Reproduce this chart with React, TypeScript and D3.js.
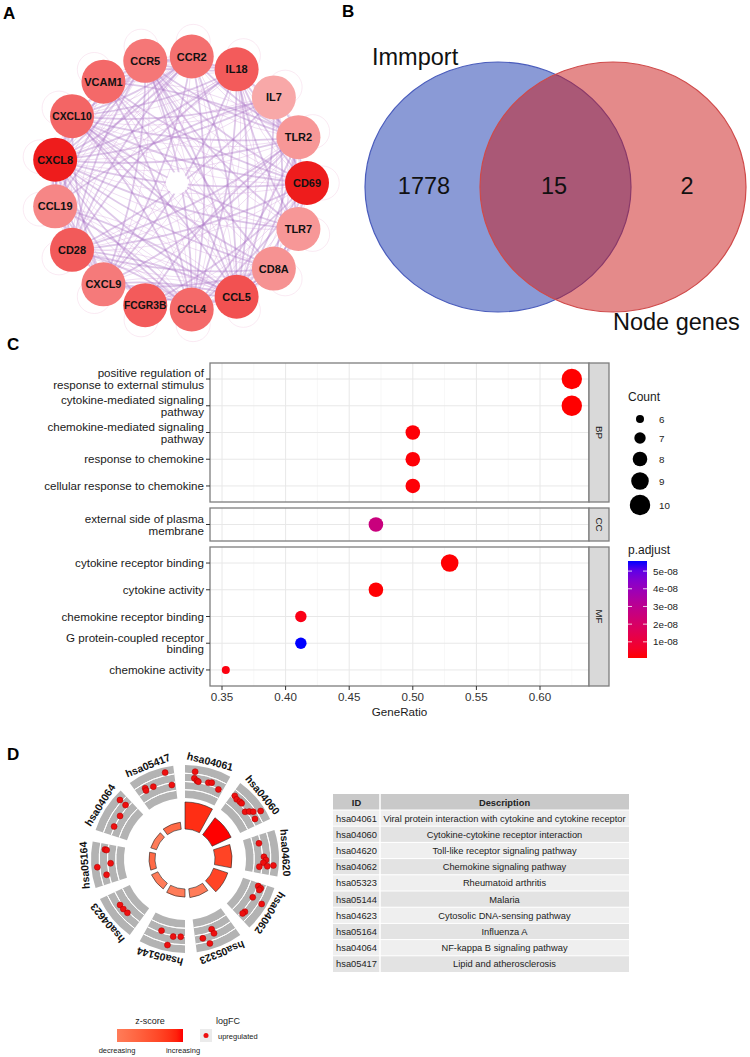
import React from 'react';
import * as d3 from 'd3';

const FONT = "'Liberation Sans', Arial, Helvetica, sans-serif";

// ---------------- Panel A: PPI network ----------------
const networkNodes = ['CCR2', 'IL18', 'IL7', 'TLR2', 'CD69', 'TLR7', 'CD8A', 'CCL5', 'CCL4', 'FCGR3B', 'CXCL9', 'CD28', 'CCL19', 'CXCL8', 'CXCL10', 'VCAM1', 'CCR5'];
const nodeScore = [0.4, 0.55, 0.0, 0.12, 1.0, 0.12, 0.16, 0.62, 0.45, 0.55, 0.33, 0.56, 0.24, 1.0, 0.48, 0.45, 0.35];
const edgeAdjacency: [string, string[]][] = [
  ['CXCL8', ['CCR2', 'IL18', 'IL7', 'TLR2', 'CD69', 'TLR7', 'CD8A', 'CCL5', 'CCL4', 'FCGR3B', 'CXCL9', 'CD28', 'CCL19', 'CXCL10', 'VCAM1', 'CCR5']],
  ['CCL5', ['CCR2', 'IL18', 'IL7', 'TLR2', 'CD69', 'TLR7', 'CD8A', 'CCL4', 'CXCL9', 'CD28', 'CCL19', 'CXCL10', 'VCAM1', 'CCR5', 'FCGR3B']],
  ['CCL4', ['CCR2', 'IL18', 'TLR2', 'CD69', 'CD8A', 'CXCL9', 'CD28', 'CCL19', 'CXCL10', 'CCR5', 'VCAM1']],
  ['CXCL10', ['CCR2', 'IL18', 'IL7', 'TLR2', 'CD69', 'TLR7', 'CD8A', 'CXCL9', 'CD28', 'CCL19', 'VCAM1', 'CCR5']],
  ['CXCL9', ['CCR2', 'IL18', 'CD8A', 'CD28', 'CCL19', 'CCR5', 'TLR2']],
  ['CCR5', ['CCR2', 'IL18', 'CD8A', 'CD28', 'CCL19', 'TLR2', 'TLR7', 'CD69']],
  ['CCR2', ['IL18', 'CCL19', 'TLR2', 'CD28', 'VCAM1']],
  ['IL18', ['IL7', 'TLR2', 'TLR7', 'CD69', 'VCAM1', 'CD28']],
  ['CD28', ['CD8A', 'IL7', 'CD69', 'CCL19', 'TLR2']],
  ['CD8A', ['CD69', 'IL7', 'TLR7']],
  ['TLR2', ['TLR7', 'VCAM1', 'CD69', 'IL7', 'FCGR3B']],
  ['VCAM1', ['CD69']],
  ['IL7', ['CCL19', 'CD69']],
  ['FCGR3B', ['CD69']],
];

// ---------------- Panel B: Venn ----------------
const vennSetNames = ['Immport', 'Node genes'];
const vennCounts = [1778, 15, 2]; // only Immport, both, only Node genes

// ---------------- Panel C: GO dot plot ----------------
const goTerms = [
  'positive regulation of response to external stimulus',
  'cytokine-mediated signaling pathway',
  'chemokine-mediated signaling pathway',
  'response to chemokine',
  'cellular response to chemokine',
  'external side of plasma membrane',
  'cytokine receptor binding',
  'cytokine activity',
  'chemokine receptor binding',
  'G protein-coupled receptor binding',
  'chemokine activity',
];
const goOntology = ['BP', 'BP', 'BP', 'BP', 'BP', 'CC', 'MF', 'MF', 'MF', 'MF', 'MF'];
const goGeneRatio = [0.625, 0.625, 0.5, 0.5, 0.5, 0.471, 0.529, 0.471, 0.412, 0.412, 0.353];
const goCount = [10, 10, 8, 8, 8, 8, 9, 8, 7, 7, 6];
const goPadjust = [8.6e-10, 8.6e-10, 1.5e-9, 1.5e-9, 1.5e-9, 2.55e-8, 1.1e-9, 1.1e-9, 3.0e-9, 5.57e-8, 2.2e-9];
const goFacets = ['BP', 'CC', 'MF'];
const xTickValues = [0.35, 0.4, 0.45, 0.5, 0.55, 0.6];
const countLegendValues = [6, 7, 8, 9, 10];
const padjTickValues = [1e-8, 2e-8, 3e-8, 4e-8, 5e-8];

// ---------------- Panel D: KEGG GOCircle + table ----------------
const keggIDs = ['hsa04061', 'hsa04060', 'hsa04620', 'hsa04062', 'hsa05323', 'hsa05144', 'hsa04623', 'hsa05164', 'hsa04064', 'hsa05417'];
const keggDescriptions = [
  'Viral protein interaction with cytokine and cytokine receptor',
  'Cytokine-cytokine receptor interaction',
  'Toll-like receptor signaling pathway',
  'Chemokine signaling pathway',
  'Rheumatoid arthritis',
  'Malaria',
  'Cytosolic DNA-sensing pathway',
  'Influenza A',
  'NF-kappa B signaling pathway',
  'Lipid and atherosclerosis',
];
const keggNegLog10Padj = [13.0, 10.1, 8.2, 7.2, 4.3, 3.9, 3.4, 2.9, 2.9, 3.4];
const keggZscore = [2.83, 3.0, 2.65, 2.65, 2.0, 2.0, 2.0, 2.24, 2.0, 2.24];
const keggGeneSlot = [
  [0.23, 0.23, 0.3, 0.34, 0.59, 0.67, 0.89],
  [0.08, 0.17, 0.27, 0.33, 0.55, 0.61, 0.67, 0.75, 0.84],
  [0.21, 0.57, 0.65, 0.72, 0.8, 0.83, 0.77],
  [0.08, 0.11, 0.16, 0.4, 0.43, 0.81, 0.88],
  [0.53, 0.51, 0.81, 0.68],
  [0.63, 0.3, 0.11, 0.4],
  [0.65, 0.52, 0.38],
  [0.86, 0.85, 0.44, 0.51, 0.23],
  [0.84, 0.84, 0.54, 0.23],
  [0.8, 0.9, 0.43, 0.23, 0.22],
];
const keggGeneLogFC = [
  [3.26, 2.45, 2.21, 2.12, 2.28, 2.41, 1.96],
  [2.35, 2.17, 2.23, 2.23, 1.87, 2.29, 2.68, 3.47, 2.38],
  [1.77, 2.18, 2.42, 2.11, 2.62, 1.66, 3.35],
  [2.07, 2.45, 2.36, 2.04, 3.38, 2.28, 2.21],
  [1.72, 2.28, 2.46, 3.27],
  [1.75, 2.12, 2.04, 3.25],
  [2.25, 2.23, 2.16],
  [2.38, 2.17, 3.28, 1.64, 2.3],
  [3.25, 2.33, 2.05, 2.06],
  [3.35, 1.72, 2.18, 2.45, 2.15],
];
const logFCGrid = [1, 2, 3];

function wrapLabel(s: string, width = 30): string[] {
  const words = s.split(' ');
  const lines: string[] = [];
  let cur = '';
  for (const w of words) {
    if (cur === '') cur = w;
    else if ((cur + ' ' + w).length <= width) cur += ' ' + w;
    else { lines.push(cur); cur = w; }
  }
  if (cur) lines.push(cur);
  return lines;
}

const PanelA = () => {
  const cx = 180, cy = 183, R = 127, nodeR = 22;
  const n = networkNodes.length;
  const ang = d3.scaleLinear().domain([0, n]).range([5.3, 365.3]);
  const color = d3.scaleLinear<string>().domain([0, 1]).range(['#f8a8a8', '#ee1c1c']);
  const pos = new Map<string, { x: number; y: number }>();
  networkNodes.forEach((name, i) => {
    const a = (ang(i) * Math.PI) / 180;
    pos.set(name, { x: cx + R * Math.sin(a), y: cy - R * Math.cos(a) });
  });
  const edges: [string, string][] = [];
  edgeAdjacency.forEach(([s, ts]) => ts.forEach((t) => edges.push([s, t])));
  const curve = (s: string, t: string, k: number) => {
    const p1 = pos.get(s)!, p2 = pos.get(t)!;
    const mx = (p1.x + p2.x) / 2, my = (p1.y + p2.y) / 2;
    const dx = p2.x - p1.x, dy = p2.y - p1.y;
    const path = d3.path();
    path.moveTo(p1.x, p1.y);
    path.quadraticCurveTo(mx - dy * k, my + dx * k, p2.x, p2.y);
    return path.toString();
  };
  return (
    <g>
      <text x={3} y={19} fontSize={17} fontWeight="bold" fill="#000">A</text>
      <g fill="none">
        {networkNodes.map((name) => {
          const p = pos.get(name)!;
          const ox = cx + (p.x - cx) * 1.12, oy = cy + (p.y - cy) * 1.12;
          return <circle key={'loop' + name} cx={ox} cy={oy} r={17} stroke="#f2c4dc" strokeOpacity={0.45} strokeWidth={0.8} />;
        })}
        {edges.map(([s, t], i) => (
          <path key={'e1' + i} d={curve(s, t, 0.1)} stroke="#a870c4" strokeOpacity={0.38} strokeWidth={1.8} />
        ))}
        {edges.map(([s, t], i) => (
          <path key={'e2' + i} d={curve(s, t, 0.17)} stroke="#d2a0dc" strokeOpacity={0.35} strokeWidth={1} />
        ))}
      </g>
      <circle cx={cx - 3} cy={cy} r={11} fill="#fff" />
      {networkNodes.map((name, i) => {
        const p = pos.get(name)!;
        return (
          <g key={name}>
            <circle cx={p.x} cy={p.y} r={nodeR} fill={color(nodeScore[i])} />
            <text x={p.x} y={p.y} dy="0.36em" textAnchor="middle" fontSize={name.length > 5 ? 10.3 : 11} fontWeight="bold" fill="#111">{name}</text>
          </g>
        );
      })}
    </g>
  );
};

const PanelB = () => {
  const cy = 187, rx = 133, ry = 125;
  const xA = 498, xB = 613;
  return (
    <g>
      <text x={342} y={17} fontSize={17} fontWeight="bold" fill="#000">B</text>
      <ellipse cx={xA} cy={cy} rx={rx} ry={ry} fill="#8a9ad6" stroke="#4a5cbc" strokeWidth={1.2} />
      <ellipse cx={xB} cy={cy} rx={rx} ry={ry} fill="rgb(201,21,21)" fillOpacity={0.5} stroke="#cf4a4a" strokeWidth={1.2} />
      <text x={372} y={65} fontSize={23.5} fill="#111">{vennSetNames[0]}</text>
      <text x={613} y={330} fontSize={23.5} fill="#111">{vennSetNames[1]}</text>
      <text x={424} y={194} fontSize={23.5} textAnchor="middle" fill="#111">{vennCounts[0]}</text>
      <text x={554} y={194} fontSize={23.5} textAnchor="middle" fill="#111">{vennCounts[1]}</text>
      <text x={687} y={194} fontSize={23.5} textAnchor="middle" fill="#111">{vennCounts[2]}</text>
    </g>
  );
};

const PanelC = () => {
  const left = 210, right = 589;
  const stripW = 20;
  const facetRange: Record<string, [number, number]> = { BP: [363, 502], CC: [508, 541], MF: [547, 686] };
  const x = d3.scaleLinear().domain([0.35, 0.6]).range([222, 540]);
  const rScale = d3.scaleSqrt().domain([6, 10]).range([4, 10.2]);
  const pExtent = d3.extent(goPadjust) as [number, number];
  const pColor = d3.scaleLinear<string>().domain(pExtent).range(['red', 'blue']).interpolate(d3.interpolateLab);
  const minorTicks = d3.range(0.375, 0.64, 0.05);
  const rows = goTerms.map((term, i) => {
    const facet = goOntology[i];
    const idx = goOntology.slice(0, i).filter((f) => f === facet).length;
    const nIn = goOntology.filter((f) => f === facet).length;
    const [t, b] = facetRange[facet];
    const y = d3.scaleLinear().domain([-0.6, nIn - 1 + 0.6]).range([t, b]);
    return { term, facet, y: y(idx), i };
  });
  const legX = 628;
  const cbTop = 561, cbBot = 658;
  const cbScale = d3.scaleLinear().domain(pExtent).range([cbBot, cbTop]);
  const gradStops = d3.range(0, 1.0001, 0.1).map((t) => ({ t, c: pColor(pExtent[0] + t * (pExtent[1] - pExtent[0])) }));
  const countY = [419, 438, 459, 481, 505];
  return (
    <g>
      <text x={7} y={350} fontSize={17} fontWeight="bold" fill="#000">C</text>
      <defs>
        <linearGradient id="padjGrad" x1="0" y1="1" x2="0" y2="0">
          {gradStops.map((s) => (
            <stop key={s.t} offset={s.t} stopColor={s.c} />
          ))}
        </linearGradient>
      </defs>
      {goFacets.map((f) => {
        const [t, b] = facetRange[f];
        const facetRows = rows.filter((r) => r.facet === f);
        return (
          <g key={f}>
            <rect x={left} y={t} width={right - left} height={b - t} fill="#fff" />
            {minorTicks.map((v) => (
              <line key={'mi' + v} x1={x(v)} x2={x(v)} y1={t} y2={b} stroke="#f2f2f2" strokeWidth={0.6} />
            ))}
            {xTickValues.map((v) => (
              <line key={'ma' + v} x1={x(v)} x2={x(v)} y1={t} y2={b} stroke="#e8e8e8" strokeWidth={1} />
            ))}
            {facetRows.map((r) => (
              <line key={'h' + r.i} x1={left} x2={right} y1={r.y} y2={r.y} stroke="#e8e8e8" strokeWidth={1} />
            ))}
            {facetRows.map((r) => (
              <circle key={'d' + r.i} cx={x(goGeneRatio[r.i])} cy={r.y} r={rScale(goCount[r.i])} fill={pColor(goPadjust[r.i])} />
            ))}
            <rect x={left} y={t} width={right - left} height={b - t} fill="none" stroke="#7d7d7d" strokeWidth={1.3} />
            <rect x={right} y={t} width={stripW} height={b - t} fill="#d9d9d9" stroke="#7d7d7d" strokeWidth={1.3} />
            <text transform={`translate(${right + stripW / 2},${(t + b) / 2}) rotate(90)`} textAnchor="middle" dy="0.35em" fontSize={9.8} fill="#1a1a1a">{f}</text>
          </g>
        );
      })}
      {rows.map((r) => {
        const lines = wrapLabel(r.term);
        return (
          <g key={'lab' + r.i}>
            <line x1={206} x2={210} y1={r.y} y2={r.y} stroke="#333" strokeWidth={1} />
            {lines.length === 1 ? (
              <text x={204} y={r.y + 4.2} textAnchor="end" fontSize={11.6} fill="#1a1a1a">{lines[0]}</text>
            ) : (
              lines.map((ln, k) => (
                <text key={k} x={204} y={r.y - 1.6 + k * 11.6} textAnchor="end" fontSize={11.6} fill="#1a1a1a">{ln}</text>
              ))
            )}
          </g>
        );
      })}
      {xTickValues.map((v) => (
        <g key={'xt' + v}>
          <line x1={x(v)} x2={x(v)} y1={686} y2={690} stroke="#333" strokeWidth={1} />
          <text x={x(v)} y={700.7} textAnchor="middle" fontSize={11.6} fill="#333">{d3.format('.2f')(v)}</text>
        </g>
      ))}
      <text x={(left + right) / 2} y={716} textAnchor="middle" fontSize={11.6} fill="#1a1a1a">GeneRatio</text>
      <text x={legX} y={401} fontSize={12} fill="#1a1a1a">Count</text>
      {countLegendValues.map((c, i) => (
        <g key={'cl' + c}>
          <circle cx={640} cy={countY[i]} r={rScale(c)} fill="#000" />
          <text x={659} y={countY[i] + 3.5} fontSize={9.8} fill="#1a1a1a">{c}</text>
        </g>
      ))}
      <text x={legX} y={554} fontSize={12} fill="#1a1a1a">p.adjust</text>
      <rect x={legX} y={cbTop} width={19} height={cbBot - cbTop} fill="url(#padjGrad)" />
      {padjTickValues.map((v) => (
        <g key={'pt' + v}>
          <line x1={legX} x2={legX + 4} y1={cbScale(v)} y2={cbScale(v)} stroke="#fff" strokeWidth={0.8} />
          <line x1={legX + 15} x2={legX + 19} y1={cbScale(v)} y2={cbScale(v)} stroke="#fff" strokeWidth={0.8} />
          <text x={653} y={cbScale(v) + 3.5} fontSize={9.8} fill="#1a1a1a">{d3.format('.0e')(v).replace('e-8', 'e-08')}</text>
        </g>
      ))}
    </g>
  );
};

const PanelD = () => {
  const cx = 185, cy = 859;
  const nT = keggIDs.length;
  const sectorStep = (2 * Math.PI) / nT;
  const sectorW = sectorStep * 0.8;
  const ringIn = 61, ringOut = 94;
  const barIn = 30;
  const barH = d3.scaleLinear().domain([0, 13]).range([0, 27]);
  const rFC = d3.scaleLinear().domain([0, 4]).range([ringIn, ringOut]);
  const zColor = d3.scaleLinear<string>().domain([0, d3.max(keggZscore)!]).range(['white', 'red']).interpolate(d3.interpolateLab);
  const arc = d3.arc<any>();
  const zMin = d3.min(keggZscore)!, zMax = d3.max(keggZscore)!;
  const tX = 333, tIdW = 47, tW = 296, tY = 794, hdrH = 16, rowH = 16.2;
  return (
    <g>
      <text x={7} y={760} fontSize={17} fontWeight="bold" fill="#000">D</text>
      {keggIDs.map((id, i) => {
        const a0 = i * sectorStep, a1 = a0 + sectorW;
        const mid = (a0 + a1) / 2;
        const midDeg = (mid * 180) / Math.PI;
        const labR = 97;
        const lx = cx + labR * Math.sin(mid), ly = cy - labR * Math.cos(mid);
        const aScale = d3.scaleLinear().domain([0, 1]).range([a0, a1]);
        return (
          <g key={id}>
            <path transform={`translate(${cx},${cy})`} d={arc({ innerRadius: ringIn, outerRadius: ringOut, startAngle: a0, endAngle: a1 })!} fill="#b3b3b3" />
            {logFCGrid.map((g) => (
              <path key={g} transform={`translate(${cx},${cy})`} d={d3.arc<any>()({ innerRadius: rFC(g), outerRadius: rFC(g), startAngle: a0, endAngle: a1 })!} fill="none" stroke="#fff" strokeWidth={1} />
            ))}
            <path transform={`translate(${cx},${cy})`} d={arc({ innerRadius: barIn, outerRadius: barIn + barH(keggNegLog10Padj[i]), startAngle: a0, endAngle: a1 })!} fill={zColor(keggZscore[i])} stroke="#222" strokeWidth={0.6} />
            {keggGeneSlot[i].map((s, k) => {
              const a = aScale(s);
              const r = rFC(keggGeneLogFC[i][k]);
              return <circle key={k} cx={cx + r * Math.sin(a)} cy={cy - r * Math.cos(a)} r={3} fill="#ee0f0f" stroke="#a80000" strokeWidth={0.5} />;
            })}
            <text transform={`translate(${lx},${ly}) rotate(${midDeg})`} textAnchor="middle" fontSize={10.5} fontWeight="bold" fill="#111">{id}</text>
          </g>
        );
      })}
      <rect x={tX} y={tY} width={tW} height={hdrH} fill="#c9c9c9" />
      <text x={tX + tIdW / 2} y={tY + 11.5} textAnchor="middle" fontSize={9.3} fontWeight="bold" fill="#222">ID</text>
      <text x={tX + tIdW + (tW - tIdW) / 2} y={tY + 11.5} textAnchor="middle" fontSize={9.3} fontWeight="bold" fill="#222">Description</text>
      {keggIDs.map((id, i) => {
        const y = tY + hdrH + i * rowH;
        return (
          <g key={'row' + id}>
            <rect x={tX} y={y} width={tW} height={rowH} fill={i % 2 === 0 ? '#efefef' : '#e3e3e3'} />
            <text x={tX + tIdW / 2} y={y + 11.5} textAnchor="middle" fontSize={9.3} fill="#222">{id}</text>
            <text x={tX + tIdW + (tW - tIdW) / 2} y={y + 11.5} textAnchor="middle" fontSize={9.3} fill="#222">{keggDescriptions[i]}</text>
            <line x1={tX} x2={tX + tW} y1={y} y2={y} stroke="#fff" strokeWidth={1} />
          </g>
        );
      })}
      <line x1={tX + tIdW} x2={tX + tIdW} y1={tY} y2={tY + hdrH + nT * rowH} stroke="#fff" strokeWidth={1.5} />
      <defs>
        <linearGradient id="zGrad" x1="0" y1="0" x2="1" y2="0">
          {d3.range(0, 1.0001, 0.1).map((t) => (
            <stop key={t} offset={t} stopColor={zColor(zMin + t * (zMax - zMin))} />
          ))}
        </linearGradient>
      </defs>
      <text x={150} y={1024} textAnchor="middle" fontSize={9} fill="#222">z-score</text>
      <rect x={117} y={1029} width={66} height={13} fill="url(#zGrad)" />
      <text x={117} y={1053} textAnchor="middle" fontSize={7.5} fill="#222">decreasing</text>
      <text x={183} y={1053} textAnchor="middle" fontSize={7.5} fill="#222">increasing</text>
      <text x={216} y={1024} fontSize={9} fill="#222">logFC</text>
      <rect x={200} y={1029} width={12} height={13} fill="#ebebeb" />
      <circle cx={206} cy={1035.5} r={2.5} fill="#ee0f0f" />
      <text x={218} y={1039} fontSize={7.5} fill="#222">upregulated</text>
    </g>
  );
};

export default function App() {
  return (
    <svg width={750} height={1057} viewBox="0 0 750 1057" fontFamily={FONT} style={{ position: 'absolute', left: 0, top: 0, background: '#fff', display: 'block' }}>
      <rect width={750} height={1057} fill="#fff" />
      <PanelA />
      <PanelB />
      <PanelC />
      <PanelD />
    </svg>
  );
}
